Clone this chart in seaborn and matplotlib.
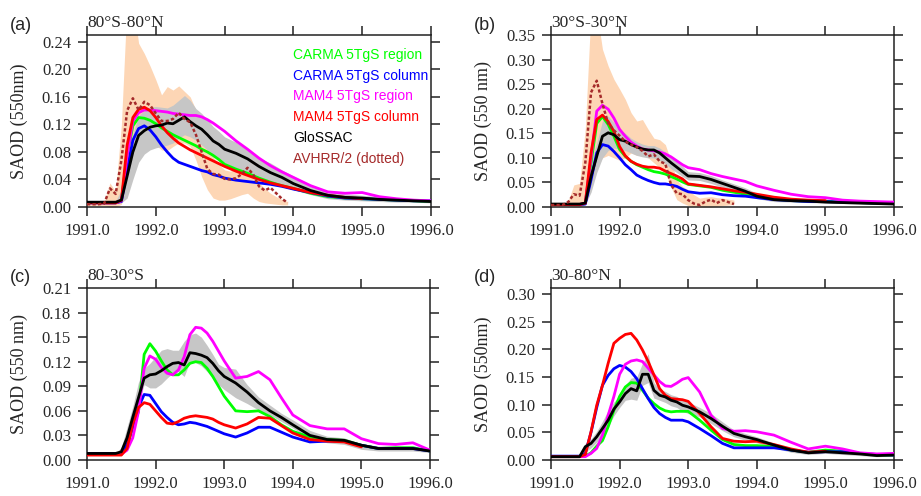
import numpy as np
import pandas as pd
import matplotlib
matplotlib.use("Agg")
import matplotlib.pyplot as plt
import seaborn as sns
from matplotlib.ticker import FixedLocator, FormatStrFormatter

sns.set_style("ticks")
plt.rcParams["font.family"] = ["Liberation Serif", "DejaVu Serif"]

nan = np.nan

# Months since Jan 1991 at which the model / GloSSAC series are sampled
months = [0, 3, 5, 6, 7, 8, 9, 10, 11, 12, 13, 14, 15, 16, 17, 18, 19, 20, 21, 22,
          23, 24, 26, 28, 30, 32, 34, 36, 39, 42, 45, 48, 51, 54, 57, 60]
# Monthly axis for the AVHRR/2 record
avhrr_months = list(range(36))

# ---------------- (a) 80S-80N ----------------
carma_region_a = [.006, .006, .006, .009, .075, .118, .130, .129, .126, .121, .115, .110, .105, .101, .097, .093,
                  .089, .084, .080, .075, .069, .062, .055, .049, .042, .036, .031, .027, .020, .015, .013, .012,
                  .011, .010, .009, .008]
carma_column_a = [.006, .006, .006, .008, .054, .097, .114, .118, .112, .102, .090, .080, .071, .065, .062, .059,
                  .056, .053, .051, .047, .045, .042, .039, .037, .035, .033, .030, .026, .021, .016, .013, .012,
                  .011, .010, .009, .009]
mam4_region_a = [.006, .006, .006, .009, .075, .125, .137, .141, .141, .140, .139, .138, .136, .135, .134, .133,
                 .133, .131, .127, .122, .116, .110, .096, .084, .071, .060, .051, .043, .031, .022, .020, .021,
                 .015, .012, .010, .009]
mam4_column_a = [.006, .006, .006, .010, .090, .130, .142, .145, .140, .130, .118, .108, .100, .093, .088, .083,
                 .079, .075, .071, .067, .063, .059, .052, .046, .040, .035, .031, .027, .021, .017, .014, .012,
                 nan, nan, nan, nan]
glossac_a = [.007, .007, .007, .010, .045, .080, .104, .111, .116, .118, .119, .122, .121, .126, .131, .124,
             .118, .113, .105, .096, .091, .084, .078, .070, .059, .050, .043, .034, .024, .017, .014, .013,
             .011, .010, .009, .008]
glossac_lo_a = [.006, .006, .006, .006, .013, .040, .065, .077, .083, .086, .088, .090, .093, .100, .105, .102,
                .097, .090, .083, .076, .070, .064, .057, .050, .042, .036, .031, .025, .018, .012, .010, .009,
                .008, .007, .007, .006]
glossac_hi_a = [.008, .008, .009, .025, .063, .105, .133, .140, .145, .146, .145, .144, .148, .155, .162, .155,
                .143, .136, .127, .117, .110, .102, .094, .083, .071, .064, .054, .045, .032, .023, .019, .017,
                .015, .013, .012, .011]
avhrr_a = [.004, .004, .004, .005, .027, .019, .068, .140, .158, .141, .153, .148, .136, .125, .125, .128,
           .137, .128, .123, .105, .080, .055, .048, .047, .041, .040, .042, .048, .057, .047, .030, .024,
           .028, .020, .012, .006]
avhrr_lo_a = [.002, .002, .002, .002, .000, .000, .004, .040, .064, .083, .097, .097, .090, .083, .082, .088,
              .093, .093, .088, .068, .044, .025, .013, .010, .010, .012, .015, .018, .020, .013, .008, .006,
              .005, .004, .003, .003]
avhrr_hi_a = [.004, .004, .004, .008, .035, .022, .120, .300, .300, .238, .223, .205, .185, .163, .175, .170,
              .176, .168, .160, .141, .122, .097, .073, .062, .054, .052, .057, .060, .058, .045, .035, .027,
              .020, .015, .011, .008]

# ---------------- (b) 30S-30N ----------------
carma_region_b = [.005, .005, .005, .007, .090, .170, .184, .168, .144, .117, .103, .093, .086, .081, .076, .072,
                  .070, .067, .062, .057, .051, .046, .043, .040, .034, .030, .026, .021, .016, .013, .012, .012,
                  .010, .009, .008, .008]
carma_column_b = [.005, .005, .005, .006, .055, .110, .127, .124, .113, .100, .086, .076, .065, .059, .054, .050,
                  .047, .047, .045, .042, .036, .031, .028, .029, .025, .023, .022, .019, .015, .013, .011, .011,
                  .010, .009, .008, .008]
mam4_region_b = [.005, .005, .005, .008, .100, .195, .207, .199, .181, .158, .144, .132, .124, .118, .116, .114,
                 .112, .108, .102, .094, .086, .080, .076, .068, .062, .057, .052, .043, .034, .026, .021, .019,
                 .014, .012, .011, .010]
mam4_column_b = [.005, .005, .005, .008, .110, .178, .187, .174, .154, .123, .104, .093, .087, .083, .081, .081,
                 .079, .073, .068, .063, .057, .047, .044, .041, .037, .033, .030, .026, .020, .016, .014, .013,
                 nan, nan, nan, nan]
glossac_b = [.006, .006, .006, .008, .062, .103, .144, .151, .147, .137, .134, .127, .122, .118, .116, .116,
             .110, .100, .090, .081, .072, .063, .062, .056, .048, .040, .032, .022, .015, .013, .012, .010,
             .009, .008, .007, .006]
glossac_lo_b = [.005, .005, .005, .005, .030, .070, .100, .115, .120, .118, .115, .110, .105, .102, .100, .100,
                .095, .088, .078, .070, .062, .055, .054, .048, .040, .033, .026, .017, .011, .010, .009, .008,
                .007, .006, .005, .005]
glossac_hi_b = [.007, .007, .007, .010, .090, .130, .175, .185, .172, .157, .150, .140, .133, .128, .125, .125,
                .120, .112, .100, .092, .083, .072, .070, .064, .055, .047, .039, .028, .020, .016, .015, .013,
                .012, .010, .009, .008]
avhrr_b = [.004, .004, .004, .010, .026, .023, .090, .233, .257, .210, .170, .156, .145, .133, .127, .122,
           .114, .103, .107, .093, .088, .045, .028, .026, .014, .007, .004, .011, .015, .008, .014, .010,
           .006, nan, nan, nan]
avhrr_lo_b = [.002, .002, .002, .002, .000, .000, .005, .040, .080, .100, .105, .100, .095, .100, .110, .105,
              .105, .100, .090, .080, .070, .040, .015, .008, .003, .001, .000, .000, .000, .001, .003, .004,
              .005, nan, nan, nan]
avhrr_hi_b = [.004, .004, .004, .012, .045, .048, .160, .400, .400, .321, .287, .260, .240, .219, .192, .175,
              .178, .158, .140, .137, .127, .093, .055, .042, .035, .025, .018, .020, .021, .019, .018, .016,
              .014, nan, nan, nan]

# ---------------- (c) 80-30S ----------------
carma_region_c = [.007, .007, .007, .007, .015, .040, .059, .129, .142, .133, .121, .110, .104, .104, .110, .118,
                  .120, .119, .112, .102, .090, .078, .060, .059, .060, .053, .043, .035, .028, .025, .024, .018,
                  .014, .015, .015, .011]
carma_column_c = [.008, .008, .008, .008, .019, .040, .064, .080, .079, .069, .059, .052, .046, .043, .044, .046,
                  .045, .043, .041, .038, .035, .032, .028, .033, .040, .040, .034, .028, .022, .023, .023, .018,
                  .014, .014, .014, .011]
mam4_region_c = [.007, .007, .007, .007, .012, .027, .059, .112, .127, .123, .113, .106, .104, .110, .126, .153,
                 .162, .161, .155, .145, .133, .121, .100, .102, .108, .098, .076, .055, .042, .038, .038, .026,
                 .020, .019, .021, .012]
mam4_column_c = [.006, .006, .006, .006, .014, .044, .064, .070, .068, .060, .052, .045, .044, .047, .051, .053,
                 .054, .053, .052, .050, .046, .043, .039, .044, .052, .051, .042, .033, .025, .023, .022, .016,
                 nan, nan, nan, nan]
glossac_c = [.008, .008, .008, .010, .027, .052, .076, .100, .104, .105, .109, .114, .118, .119, .116, .131,
             .130, .128, .125, .118, .109, .102, .094, .083, .070, .060, .052, .043, .030, .025, .024, .018,
             .014, .014, .014, .011]
glossac_lo_c = [.007, .007, .007, .008, .020, .045, .070, .092, .088, .088, .093, .100, .106, .108, .102, .120,
                .119, .115, .108, .100, .092, .086, .076, .069, .061, .055, .047, .039, .026, .021, .019, .013,
                .011, .011, .011, .009]
glossac_hi_c = [.009, .009, .009, .015, .040, .065, .095, .112, .118, .126, .134, .136, .134, .134, .145, .153,
                .155, .150, .140, .129, .117, .113, .111, .092, .077, .067, .057, .049, .036, .029, .027, .020,
                .017, .017, .017, .013]

# ---------------- (d) 30-80N ----------------
carma_region_d = [.006, .006, .006, .007, .013, .025, .035, .060, .090, .115, .132, .140, .139, .126, .112, .102,
                  .094, .089, .087, .088, .088, .088, .072, .054, .037, .028, .026, .026, .024, .018, .014, .018,
                  .016, .012, .009, .009]
carma_column_d = [.007, .007, .007, .012, .050, .095, .135, .153, .165, .171, .168, .160, .147, .129, .111, .095,
                  .084, .077, .072, .072, .072, .069, .057, .044, .030, .022, .022, .022, .022, .018, .014, .015,
                  .015, .012, .010, .009]
mam4_region_d = [.006, .006, .006, .006, .012, .021, .045, .081, .115, .155, .173, .179, .181, .178, .166, .154,
                 .142, .134, .133, .139, .146, .149, .123, .081, .057, .052, .053, .051, .045, .032, .020, .025,
                 .020, .013, .011, .012]
mam4_column_d = [.006, .006, .006, .010, .051, .099, .135, .175, .211, .220, .227, .229, .217, .199, .178, .154,
                 .129, .117, .111, .110, .109, .106, .084, .060, .039, .034, .033, .034, .028, .020, .014, .016,
                 nan, nan, nan, nan]
glossac_d = [.006, .006, .006, .024, .030, .042, .057, .072, .092, .105, .120, .129, .125, .155, .155, .126,
             .117, .114, .108, .105, .099, .096, .087, .075, .061, .048, .042, .037, .027, .018, .013, .015,
             .013, .011, .008, .009]
glossac_lo_d = [.005, .005, .005, .015, .022, .032, .045, .060, .080, .095, .108, .110, .108, .135, .140, .112,
                .108, .104, .098, .095, .088, .084, .078, .066, .053, .042, .036, .031, .022, .014, .010, .012,
                .010, .008, .006, .007]
glossac_hi_d = [.008, .008, .008, .030, .038, .052, .070, .090, .105, .115, .135, .148, .150, .175, .192, .140,
                .128, .124, .118, .115, .108, .105, .095, .084, .069, .054, .048, .042, .031, .022, .016, .018,
                .016, .013, .010, .011]

series_names = ["CARMA 5TgS region", "CARMA 5TgS column", "MAM4 5TgS region",
                "MAM4 5TgS column", "GloSSAC", "AVHRR/2 (dotted)"]
series_colors = ["#00FF00", "#0000FF", "#FF00FF", "#FF0000", "#000000", "#A52A2A"]

year_ticks = [1991, 1992, 1993, 1994, 1995, 1996]

panels = [
    dict(tag="(a)", region="80°S-80°N", ylabel="SAOD (550nm)", ylim=0.25,
         yticks=[0, .04, .08, .12, .16, .20, .24], box=(87, 431, 35, 207),
         models=[carma_region_a, carma_column_a, mam4_region_a, mam4_column_a],
         glossac=(glossac_a, glossac_lo_a, glossac_hi_a),
         avhrr=(avhrr_a, avhrr_lo_a, avhrr_hi_a), legend=True),
    dict(tag="(b)", region="30°S-30°N", ylabel="SAOD (550 nm)", ylim=0.35,
         yticks=[0, .05, .10, .15, .20, .25, .30, .35], box=(551, 894, 35, 207),
         models=[carma_region_b, carma_column_b, mam4_region_b, mam4_column_b],
         glossac=(glossac_b, glossac_lo_b, glossac_hi_b),
         avhrr=(avhrr_b, avhrr_lo_b, avhrr_hi_b), legend=False),
    dict(tag="(c)", region="80-30°S", ylabel="SAOD (550 nm)", ylim=0.21,
         yticks=[0, .03, .06, .09, .12, .15, .18, .21], box=(87, 430, 288, 460),
         models=[carma_region_c, carma_column_c, mam4_region_c, mam4_column_c],
         glossac=(glossac_c, glossac_lo_c, glossac_hi_c), avhrr=None, legend=False),
    dict(tag="(d)", region="30-80°N", ylabel="SAOD (550nm)", ylim=0.311,
         yticks=[0, .05, .10, .15, .20, .25, .30], box=(551, 894, 288, 460),
         models=[carma_region_d, carma_column_d, mam4_region_d, mam4_column_d],
         glossac=(glossac_d, glossac_lo_d, glossac_hi_d), avhrr=None, legend=False),
]

W, H = 921, 496
fig = plt.figure(figsize=(W / 100, H / 100), dpi=100)
years = 1991 + np.array(months) / 12.0
avhrr_years = 1991 + np.array(avhrr_months) / 12.0
spine_col = "#222222"

for p in panels:
    l, r, t, b = p["box"]
    ax = fig.add_axes([l / W, 1 - b / H, (r - l) / W, (b - t) / H])

    if p["avhrr"] is not None:
        ax.fill_between(avhrr_years, p["avhrr"][1], p["avhrr"][2], color="#FDD6B5", lw=0, zorder=1)
    g, glo, ghi = p["glossac"]
    ax.fill_between(years, glo, ghi, color="#C6C6C6", lw=0, zorder=2)

    df = pd.DataFrame({"year": years})
    for name, color, vals in zip(series_names[:4], series_colors[:4], p["models"]):
        df[name] = vals
        sns.lineplot(data=df, x="year", y=name, color=color, lw=2.0, ax=ax, zorder=3)
    df["GloSSAC"] = g
    sns.lineplot(data=df, x="year", y="GloSSAC", color="black", lw=2.0, ax=ax, zorder=4)
    if p["avhrr"] is not None:
        adf = pd.DataFrame({"year": avhrr_years, "avhrr": p["avhrr"][0]})
        sns.lineplot(data=adf, x="year", y="avhrr", color=series_colors[5], lw=1.8,
                     linestyle=(0, (1.3, 0.9)), ax=ax, zorder=5)

    ax.set_xlim(1991, 1996)
    ax.set_ylim(0, p["ylim"])
    ax.xaxis.set_major_locator(FixedLocator(year_ticks))
    ax.xaxis.set_major_formatter(FormatStrFormatter("%.1f"))
    ax.yaxis.set_major_locator(FixedLocator(p["yticks"]))
    ax.yaxis.set_major_formatter(FormatStrFormatter("%.2f"))
    ax.tick_params(axis="both", which="major", direction="out", length=6.5, width=1.1,
                   color=spine_col, labelsize=12, top=True, right=True, pad=5)
    for s in ax.spines.values():
        s.set_visible(True)
        s.set_color(spine_col)
        s.set_linewidth(1.1)
    ax.set_xlabel("")
    ax.set_ylabel(p["ylabel"], fontsize=13, va="center")
    ax.yaxis.set_label_coords(-68 / (r - l), 0.5)

    ax.annotate(p["region"], xy=(0, 1), xycoords="axes fraction", xytext=(0, 6),
                textcoords="offset points", ha="left", va="baseline", fontsize=12.5)
    fig.text((l - 77) / W, 1 - (t - 10) / H, p["tag"], fontsize=13,
             family=["Liberation Sans", "DejaVu Sans"], ha="left", va="center")

    if p["legend"]:
        for i, (name, color) in enumerate(zip(series_names, series_colors)):
            ax.text(0.599, 0.884 - i * 0.1206, name, color=color, transform=ax.transAxes,
                    fontsize=10, family=["Liberation Sans", "DejaVu Sans"], ha="left", va="center")

fig.savefig("out.png", dpi=100)
